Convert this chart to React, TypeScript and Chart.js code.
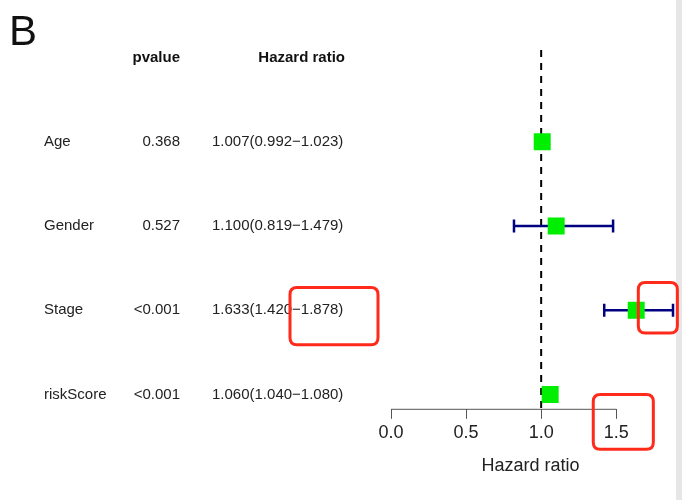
import React, { useEffect, useRef } from "react";
import { Chart, registerables } from "chart.js";

Chart.register(...registerables);

// ---- data ----
const variables = ["Age", "Gender", "Stage", "riskScore"];
const pvalues = ["0.368", "0.527", "<0.001", "<0.001"];
const hazardRatio = [1.007, 1.1, 1.633, 1.06];
const ciLow = [0.992, 0.819, 1.42, 1.04];
const ciHigh = [1.023, 1.479, 1.878, 1.08];
const hrLabels = [
  "1.007(0.992\u22121.023)",
  "1.100(0.819\u22121.479)",
  "1.633(1.420\u22121.878)",
  "1.060(1.040\u22121.080)",
];
const xTicks = [0, 0.5, 1.0, 1.5];
const panelLabel = "B";
const headerP = "pvalue";
const headerHR = "Hazard ratio";
const xTitle = "Hazard ratio";

const FONT = '"Liberation Sans", Arial, sans-serif';

// annotation boxes (x in axis value units or canvas px, y in row units)
const annotations = [
  { mode: "px", x0: 290, x1: 378, row: 3, dy0: -0.27, dy1: 0.41 },
  { mode: "val", x0: 1.647, x1: 1.907, row: 3, dy0: -0.33, dy1: 0.27 },
  { mode: "val", x0: 1.347, x1: 1.747, row: 4, dy0: 0.0, dy1: 0.65 },
];

function roundRect(ctx: CanvasRenderingContext2D, x: number, y: number, w: number, h: number, r: number) {
  ctx.beginPath();
  ctx.moveTo(x + r, y);
  ctx.lineTo(x + w - r, y);
  ctx.quadraticCurveTo(x + w, y, x + w, y + r);
  ctx.lineTo(x + w, y + h - r);
  ctx.quadraticCurveTo(x + w, y + h, x + w - r, y + h);
  ctx.lineTo(x + r, y + h);
  ctx.quadraticCurveTo(x, y + h, x, y + h - r);
  ctx.lineTo(x, y + r);
  ctx.quadraticCurveTo(x, y, x + r, y);
  ctx.closePath();
}

const forestPlugin = {
  id: "forest",
  beforeDatasetsDraw(chart: any) {
    const ctx = chart.ctx as CanvasRenderingContext2D;
    const xs = chart.scales.x;
    const ys = chart.scales.y;
    const area = chart.chartArea;
    ctx.save();
    // background strip on the right
    ctx.fillStyle = "#e6e6e6";
    ctx.fillRect(676, 0, chart.width - 676, chart.height);
    // reference line at 1
    ctx.strokeStyle = "#000";
    ctx.lineWidth = 2;
    ctx.setLineDash([7, 6]);
    ctx.beginPath();
    const x1 = xs.getPixelForValue(1);
    ctx.moveTo(x1, area.top);
    ctx.lineTo(x1, area.bottom);
    ctx.stroke();
    ctx.setLineDash([]);
    // axis line from first to last tick
    ctx.strokeStyle = "#555";
    ctx.lineWidth = 1;
    ctx.beginPath();
    ctx.moveTo(xs.getPixelForValue(xTicks[0]), area.bottom + 0.5);
    ctx.lineTo(xs.getPixelForValue(xTicks[xTicks.length - 1]), area.bottom + 0.5);
    ctx.stroke();
    // error bars
    ctx.strokeStyle = "#000080";
    ctx.lineWidth = 2.5;
    for (let i = 0; i < variables.length; i++) {
      const y = ys.getPixelForValue(i + 1);
      const a = xs.getPixelForValue(ciLow[i]);
      const b = xs.getPixelForValue(ciHigh[i]);
      ctx.beginPath();
      ctx.moveTo(a, y);
      ctx.lineTo(b, y);
      ctx.moveTo(a, y - 6.5);
      ctx.lineTo(a, y + 6.5);
      ctx.moveTo(b, y - 6.5);
      ctx.lineTo(b, y + 6.5);
      ctx.stroke();
    }
    ctx.restore();
  },
  afterDraw(chart: any) {
    const ctx = chart.ctx as CanvasRenderingContext2D;
    const xs = chart.scales.x;
    const ys = chart.scales.y;
    ctx.save();
    ctx.fillStyle = "#111";
    ctx.textBaseline = "middle";
    // panel label
    ctx.font = `42px ${FONT}`;
    ctx.textAlign = "left";
    ctx.fillText(panelLabel, 9, 33);
    // headers
    const hy = ys.getPixelForValue(0);
    ctx.font = `bold 15px ${FONT}`;
    ctx.textAlign = "right";
    ctx.fillText(headerP, 180, hy);
    ctx.fillText(headerHR, 345, hy);
    // rows
    ctx.font = `15px ${FONT}`;
    ctx.fillStyle = "#222";
    for (let i = 0; i < variables.length; i++) {
      const y = ys.getPixelForValue(i + 1);
      ctx.textAlign = "left";
      ctx.fillText(variables[i], 44, y);
      ctx.textAlign = "right";
      ctx.fillText(pvalues[i], 180, y);
      ctx.textAlign = "left";
      ctx.fillText(hrLabels[i], 212, y);
    }
    // annotation boxes
    ctx.strokeStyle = "#ff2a1a";
    ctx.lineWidth = 3;
    for (const an of annotations) {
      const ax0 = an.mode === "px" ? an.x0 : xs.getPixelForValue(an.x0);
      const ax1 = an.mode === "px" ? an.x1 : xs.getPixelForValue(an.x1);
      const ay0 = ys.getPixelForValue(an.row + an.dy0);
      const ay1 = ys.getPixelForValue(an.row + an.dy1);
      roundRect(ctx, ax0, ay0, ax1 - ax0, ay1 - ay0, 7);
      ctx.stroke();
    }
    ctx.restore();
  },
};

export default function App() {
  const ref = useRef<HTMLCanvasElement | null>(null);
  useEffect(() => {
    document.body.style.margin = "0";
    const canvas = ref.current;
    if (!canvas) return;
    const chart = new Chart(canvas, {
      type: "scatter",
      data: {
        datasets: [
          {
            data: hazardRatio.map((v, i) => ({ x: v, y: i + 1 })),
            pointStyle: "rect",
            pointRadius: 12,
            pointHoverRadius: 12,
            backgroundColor: "#00ee00",
            borderWidth: 0,
          },
        ],
      },
      options: {
        animation: false,
        responsive: false,
        events: [],
        layout: { padding: { left: 391, right: 6, top: 50, bottom: 19 } },
        plugins: { legend: { display: false }, tooltip: { enabled: false } },
        scales: {
          x: {
            type: "linear",
            min: 0,
            max: 1.858,
            afterBuildTicks: (s: any) => {
              s.ticks = xTicks.map((v) => ({ value: v }));
            },
            ticks: {
              padding: 3,
              color: "#222",
              font: { family: FONT, size: 18 },
              callback: (v: any) => Number(v).toFixed(1),
            },
            grid: {
              display: true,
              drawOnChartArea: false,
              drawTicks: true,
              tickLength: 10,
              color: "#555",
              lineWidth: 1,
            },
            border: { display: false },
            title: {
              display: true,
              text: xTitle,
              color: "#222",
              font: { family: FONT, size: 18 },
              padding: { top: 9, bottom: 4 },
            },
          },
          y: {
            type: "linear",
            display: false,
            reverse: true,
            min: -0.09,
            max: 4.17,
          },
        },
      },
      plugins: [forestPlugin],
    });
    return () => chart.destroy();
  }, []);
  return <canvas ref={ref} width={682} height={500} style={{ display: "block" }} />;
}
